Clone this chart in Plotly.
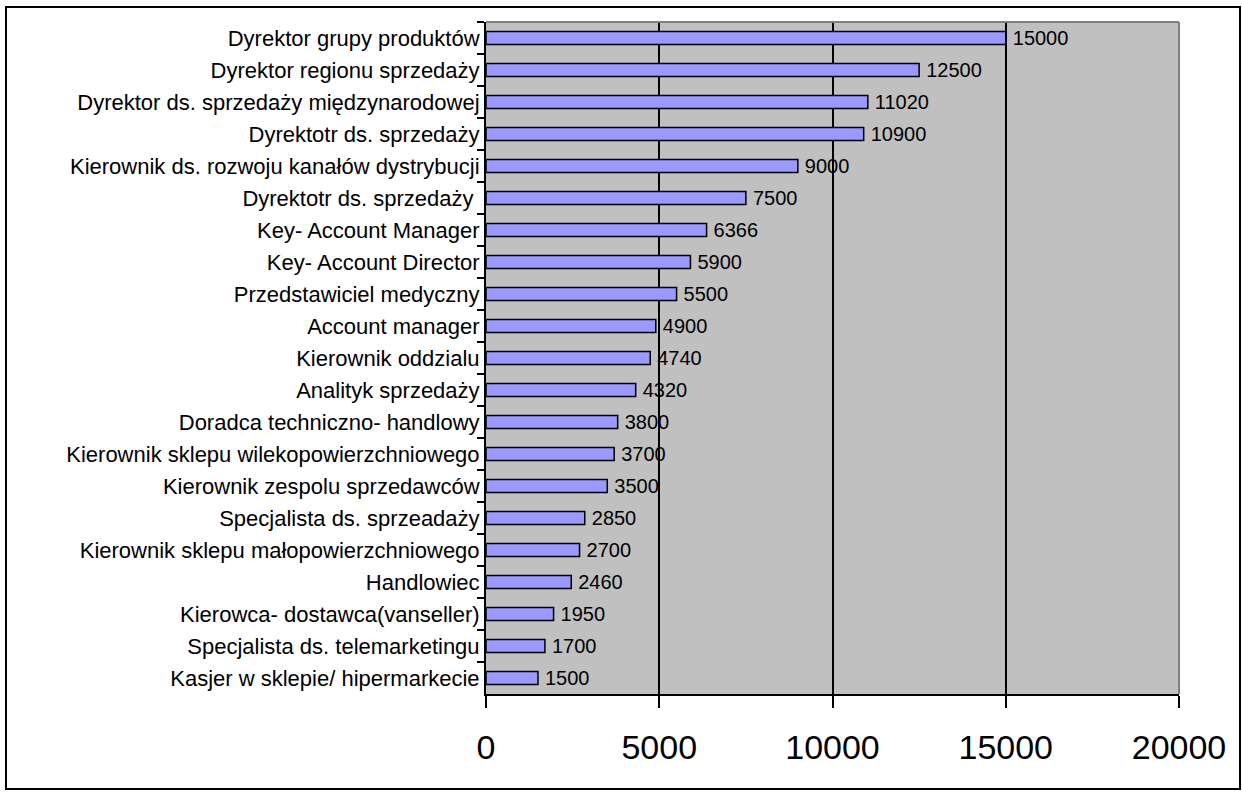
import plotly.graph_objects as go

categories = [
    "Dyrektor grupy produktów",
    "Dyrektor regionu sprzedaży",
    "Dyrektor ds. sprzedaży międzynarodowej",
    "Dyrektotr ds. sprzedaży",
    "Kierownik ds. rozwoju kanałów dystrybucji",
    "Dyrektotr ds. sprzedaży ",
    "Key- Account Manager",
    "Key- Account Director",
    "Przedstawiciel medyczny",
    "Account manager",
    "Kierownik oddzialu",
    "Analityk sprzedaży",
    "Doradca techniczno- handlowy",
    "Kierownik sklepu wilekopowierzchniowego",
    "Kierownik zespolu sprzedawców",
    "Specjalista ds. sprzeadaży",
    "Kierownik sklepu małopowierzchniowego",
    "Handlowiec",
    "Kierowca- dostawca(vanseller)",
    "Specjalista ds. telemarketingu",
    "Kasjer w sklepie/ hipermarkecie",
]
values = [15000, 12500, 11020, 10900, 9000, 7500, 6366, 5900, 5500, 4900,
          4740, 4320, 3800, 3700, 3500, 2850, 2700, 2460, 1950, 1700, 1500]
x_ticks = [0, 5000, 10000, 15000, 20000]

W, H = 1242, 796
L, R, T, B = 486, 63, 22, 102
pw, ph = W - L - R, H - T - B

FONT = "Liberation Sans, Arial, sans-serif"

fig = go.Figure(go.Bar(
    x=values, y=categories, orientation="h",
    marker=dict(color="#9999FF", line=dict(color="black", width=1.5)),
    width=0.4,
    text=[str(v) for v in values],
    texttemplate="\u2009%{text}", textposition="outside",
    constraintext="none",
    textfont=dict(size=20, color="black", family=FONT),
    cliponaxis=False,
    hoverinfo="skip",
))

def px_to_paper_x(px):
    return (px - L) / pw

def px_to_paper_y(py):
    return 1 - (py - T) / ph

fig.update_layout(
    width=W, height=H,
    margin=dict(l=L, r=R, t=T, b=B),
    paper_bgcolor="white", plot_bgcolor="#C0C0C0",
    font=dict(family=FONT, color="black"),
    showlegend=False,
    xaxis=dict(range=[0, 20000], tickvals=x_ticks, ticktext=[str(t) for t in x_ticks],
               showgrid=True, gridcolor="black", gridwidth=1.5, zeroline=False,
               showline=True, linecolor="black", linewidth=2,
               ticks="outside", ticklen=12, tickwidth=2, tickcolor="black",
               ticklabelstandoff=10,
               tickfont=dict(size=34, family=FONT)),
    yaxis=dict(autorange="reversed", type="category",
               showgrid=False, zeroline=False,
               showline=True, linecolor="black", linewidth=2,
               ticks="outside", ticklen=7, tickwidth=2, tickcolor="black",
               tickson="boundaries",
               tickfont=dict(size=22, family=FONT)),
    shapes=[
        dict(type="line", xref="paper", yref="paper", x0=0, x1=1, y0=1, y1=1,
             line=dict(color="#808080", width=2), layer="above"),
        dict(type="line", xref="paper", yref="paper", x0=1, x1=1, y0=0, y1=1,
             line=dict(color="#808080", width=2), layer="above"),
        dict(type="rect", xref="paper", yref="paper",
             x0=px_to_paper_x(6), x1=px_to_paper_x(1240),
             y0=px_to_paper_y(789), y1=px_to_paper_y(7),
             line=dict(color="black", width=2), fillcolor="rgba(0,0,0,0)",
             layer="below"),
    ],
)

fig.write_html("out.html", config={"displayModeBar": False},
               post_script="document.body.style.margin='0';document.body.style.overflow='hidden';")
